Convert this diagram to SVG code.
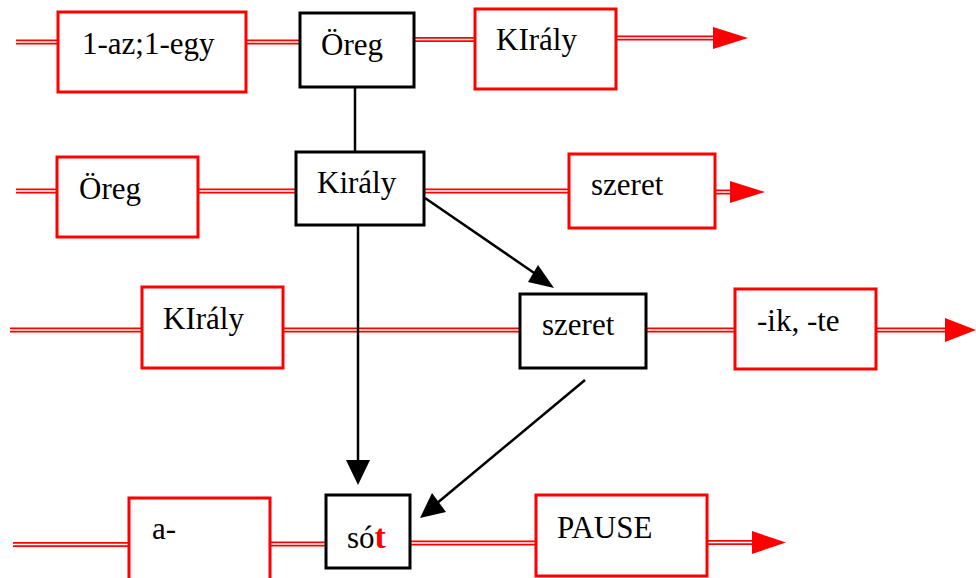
<svg xmlns="http://www.w3.org/2000/svg" width="976" height="578" viewBox="0 0 976 578">
<style>
.rb{fill:#fff;stroke:#ff0000;stroke-width:3}
.bb{fill:#fff;stroke:#000;stroke-width:3}
.dlo{fill:none;stroke:#ff0000;stroke-width:5}
.dli{fill:none;stroke:#fff;stroke-width:1.5}
.ah{fill:#ff0000}
.bl{fill:none;stroke:#000;stroke-width:2.5}
.bh{fill:#000}
</style>
<defs>
<path id="rails" d="M16 42H58 M246 42H300 M414 39.5H475 M616 38H715 M16 191H57 M198 191H296 M424 191H569 M715 192H732 M10 330H142 M283 330H520 M646 330H735 M876 330H948 M13 544.5H129 M270 544H326 M410 543H536 M707 542.5H754"/>
</defs>
<g id="connectors">
<use href="#rails" class="dlo"/>
<use href="#rails" class="dli"/>
<polygon class="ah" points="713,27 748,38 713,49"/>
<polygon class="ah" points="730,181 765,192 730,203"/>
<polygon class="ah" points="945,318 976,330 945,342"/>
<polygon class="ah" points="752,531 786,542.5 752,554"/>
<path class="bl" d="M355 87V152"/>
<path class="bl" d="M358 226V462"/>
<polygon class="bh" points="346,460 370,460 358,485"/>
<path class="bl" d="M425 198L540 277"/>
<polygon class="bh" points="538,265 528,282 554,288"/>
<path class="bl" d="M585 380L436 504"/>
<polygon class="bh" points="432,493 446,512 420,518"/>
</g>
<g id="n-1az"><rect class="rb" x="58" y="12" width="188" height="80"/><text font-family="Liberation Serif" font-size="31" x="82" y="54">1-az;1-egy</text></g>
<g id="n-oreg1"><rect class="bb" x="300" y="13" width="114" height="74"/><text font-family="Liberation Serif" font-size="31" x="321" y="55">Öreg</text></g>
<g id="n-kiraly1"><rect class="rb" x="475" y="9" width="141" height="80"/><text font-family="Liberation Serif" font-size="31" x="496" y="50">KIrály</text></g>
<g id="n-oreg2"><rect class="rb" x="57" y="157" width="141" height="80"/><text font-family="Liberation Serif" font-size="31" x="79" y="199">Öreg</text></g>
<g id="n-kiraly2"><rect class="bb" x="296" y="152" width="128" height="73"/><text font-family="Liberation Serif" font-size="31" x="317" y="193">Király</text></g>
<g id="n-szeret2"><rect class="rb" x="569" y="154" width="146" height="74"/><text font-family="Liberation Serif" font-size="31" x="591" y="195">szeret</text></g>
<g id="n-kiraly3"><rect class="rb" x="142" y="287" width="141" height="81"/><text font-family="Liberation Serif" font-size="31" x="163" y="329">KIrály</text></g>
<g id="n-szeret3"><rect class="bb" x="520" y="294" width="126" height="74"/><text font-family="Liberation Serif" font-size="31" x="542" y="335">szeret</text></g>
<g id="n-ikte"><rect class="rb" x="735" y="289" width="141" height="80"/><text font-family="Liberation Serif" font-size="31" x="757" y="331">-ik, -te</text></g>
<g id="n-a"><rect class="rb" x="129" y="498" width="141" height="82"/><text font-family="Liberation Serif" font-size="31" x="152" y="539">a-</text></g>
<g id="n-sot"><rect class="bb" x="326" y="495" width="84" height="73"/><text font-family="Liberation Serif" font-size="31" x="347" y="548">só<tspan font-weight="bold" fill="#ff0000" font-size="34">t</tspan></text></g>
<g id="n-pause"><rect class="rb" x="536" y="495" width="171" height="81"/><text font-family="Liberation Serif" font-size="31" x="557" y="538">PAUSE</text></g>
</svg>
